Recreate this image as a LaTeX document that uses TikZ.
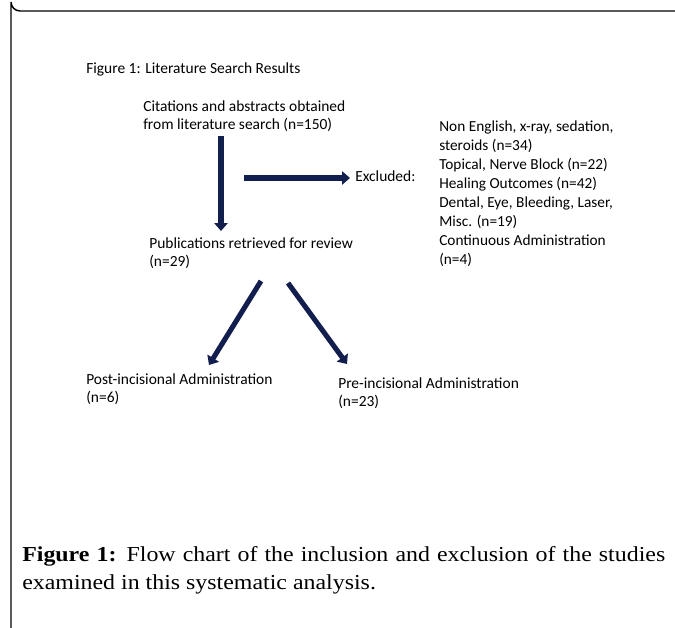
\documentclass[tikz,border=0pt]{standalone}
\usepackage{fontspec}
\setmainfont{Liberation Serif}
\newfontfamily\diagfont{Carlito}
\newfontfamily\capfont[FakeStretch=1.12]{Liberation Serif}
\usetikzlibrary{arrows.meta}
\definecolor{navy}{RGB}{18,30,78}
\tikzset{
  txt/.style={anchor=west, inner sep=0pt, font=\diagfont\fontsize{11.6}{13.6}\selectfont, align=left},
  bigarrow/.style={draw=navy, line width=3.8pt, -{Triangle[length=6pt,width=10pt]}},
}
\begin{document}
\begin{tikzpicture}[x=0.75pt,y=-0.75pt]
\useasboundingbox (0,0) rectangle (675,628);
% frame
\draw[line width=1.1pt] (675,11) -- (20,11) arc[start angle=90,end angle=180,radius=9] -- (11,628);
% title
\node[txt] (title) at (86,69) {Figure 1: Literature Search Results};
% nodes
\node[txt] (cit) at (143,116) {Citations and abstracts obtained\\from literature search (n=150)};
\node[txt] (exc) at (355,176) {Excluded:};
\node[txt, font=\diagfont\fontsize{11.5}{14.2}\selectfont] (list) at (439,194) {Non English, x-ray, sedation,\\steroids (n=34)\\Topical, Nerve Block (n=22)\\Healing Outcomes (n=42)\\Dental, Eye, Bleeding, Laser,\\Misc. (n=19)\\Continuous Administration\\(n=4)};
\node[txt] (pub) at (149,253) {Publications retrieved for review\\(n=29)};
\node[txt] (post) at (86,389) {Post-incisional Administration\\(n=6)};
\node[txt] (pre) at (338,393) {Pre-incisional Administration\\(n=23)};
% arrow coordinates
\coordinate (v1) at (221,136);
\coordinate (v2) at (221,231);
\coordinate (h1) at (244,178);
\coordinate (h2) at (350,178);
\coordinate (l1) at (261,281);
\coordinate (l2) at (209,365);
\coordinate (r1) at (288,283);
\coordinate (r2) at (347,364);
\draw[bigarrow] (v1) -- (v2);
\draw[bigarrow] (h1) -- (h2);
\draw[bigarrow] (l1) -- (l2);
\draw[bigarrow] (r1) -- (r2);
% caption
\node[anchor=north west, inner sep=0pt, text width=643*0.75pt, align=justify, font=\capfont\fontsize{16}{21}\selectfont] (cap) at (22,546) {\textbf{Figure 1:} Flow chart of the inclusion and exclusion of the studies\linebreak examined in this systematic analysis.};
\end{tikzpicture}
\end{document}
